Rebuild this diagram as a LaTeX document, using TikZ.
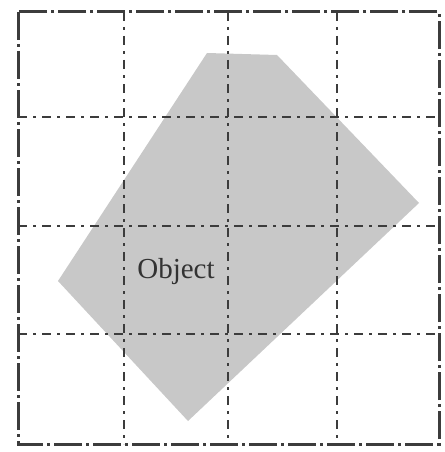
\documentclass[tikz,border=0pt]{standalone}
\usepackage{fontspec}
\setmainfont{Liberation Serif}
\definecolor{objfill}{RGB}{200,200,200}
\definecolor{gridcol}{RGB}{60,60,60}
\tikzset{
  gridline/.style={draw=gridcol, line width=2.4pt, dash pattern=on 9pt off 6pt on 3pt off 6pt},
  borderline/.style={draw=gridcol, line width=3pt, dash pattern=on 28pt off 4pt on 3pt off 4pt},
  objshape/.style={fill=objfill, draw=none},
  objlabel/.style={font=\fontsize{29}{30}\selectfont, text=black!80, inner sep=0pt}
}
\begin{document}
\begin{tikzpicture}[x=1pt,y=-1pt]
\useasboundingbox (0,0) rectangle (444,452);
\fill[white] (0,0) rectangle (444,452);
% object polygon
\path[objshape] (207,53) -- (277,55) -- (419,203) -- (188,421) -- (58,281) -- cycle;
% inner grid lines
\foreach \x in {124,228,337} \draw[gridline] (\x,12) -- (\x,444);
\foreach \y in {117,226,334} \draw[gridline] (18,\y) -- (439,\y);
% border
\draw[borderline] (18,12) rectangle (439,444);
\node[objlabel] (obj) at (176,272) {Object};
\end{tikzpicture}
\end{document}
